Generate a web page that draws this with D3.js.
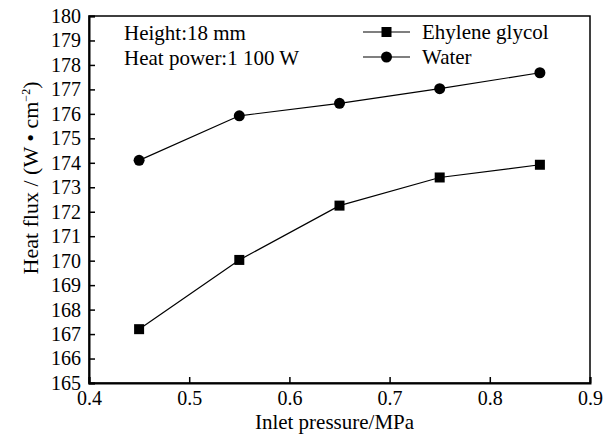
<!DOCTYPE html>
<html>
<head>
<meta charset="utf-8">
<script src="https://cdn.jsdelivr.net/npm/d3@7"></script>
<style>
body { margin: 0; background: #fff; }
svg text { font-family: "Liberation Serif", "Times New Roman", serif !important; fill: #000; }
</style>
</head>
<body>
<div id="chart-area"></div>
<script>
var pressure = [0.45, 0.55, 0.65, 0.75, 0.85];
var glycol = [167.2, 170.03, 172.25, 173.4, 173.92];
var water = [174.1, 175.92, 176.43, 177.03, 177.68];
var xTicks = [0.4, 0.5, 0.6, 0.7, 0.8, 0.9];
var yTicks = [165, 166, 167, 168, 169, 170, 171, 172, 173, 174, 175, 176, 177, 178, 179, 180];

var margin = { left: 89, right: 17, top: 16, bottom: 54 };
var width = 607 - margin.left - margin.right,
    height = 437 - margin.top - margin.bottom;
var serif = "'Liberation Serif', 'Times New Roman', serif";

var svg = d3.select("#chart-area").append("svg")
    .attr("width", 607)
    .attr("height", 437)
    .attr("font-family", serif);

var g = svg.append("g").attr("transform", "translate(" + margin.left + ", " + margin.top + ")");

var x = d3.scaleLinear().domain([0.4, 0.9]).range([0, width]);
var y = d3.scaleLinear().domain([165, 180]).range([height, 0]);

// frame
g.append("rect")
    .attr("width", width)
    .attr("height", height)
    .attr("fill", "none")
    .attr("stroke", "#000")
    .attr("stroke-width", 1.5);

var xAxis = d3.axisBottom(x).tickValues(xTicks).tickSize(-6).tickPadding(8)
    .tickFormat(d3.format(".1f"));
var xAxisGroup = g.append("g")
    .attr("transform", "translate(0, " + height + ")")
    .call(xAxis);

var yAxis = d3.axisLeft(y).tickValues(yTicks).tickSize(-6).tickPadding(8);
var yAxisGroup = g.append("g").call(yAxis);

[xAxisGroup, yAxisGroup].forEach(function(ax) {
    ax.attr("font-family", serif).attr("font-size", 20);
    ax.select(".domain").attr("stroke-width", 2);
    ax.selectAll(".tick line").attr("stroke-width", 1.5);
});

// labels
g.append("text")
    .attr("x", width / 2 - 5)
    .attr("y", height + 46)
    .attr("font-size", 21)
    .attr("text-anchor", "middle")
    .text("Inlet pressure/MPa");

var yLabel = g.append("text")
    .attr("transform", "rotate(-90)")
    .attr("x", -162)
    .attr("y", -51)
    .attr("font-size", 22)
    .attr("text-anchor", "middle");
yLabel.append("tspan").text("Heat flux / (W \u2022 cm");
yLabel.append("tspan").attr("font-size", 12).attr("dy", "-8").text("\u22122");
yLabel.append("tspan").attr("dy", "8").text(")");

g.append("text").attr("x", 35).attr("y", 24).attr("font-size", 21).text("Height:18 mm");
g.append("text").attr("x", 35).attr("y", 49).attr("font-size", 21).text("Heat power:1 100 W");

var line = d3.line()
    .x(function(d) { return x(d[0]); })
    .y(function(d) { return y(d[1]); });

var series = [
    { name: "Ehylene glycol", values: glycol, shape: "square" },
    { name: "Water", values: water, shape: "circle" }
];

function marker(sel, shape) {
    if (shape === "square") {
        sel.append("rect").attr("x", -5).attr("y", -5).attr("width", 10).attr("height", 10).attr("fill", "#000");
    } else {
        sel.append("circle").attr("r", 5.5).attr("fill", "#000");
    }
}

series.forEach(function(s, i) {
    var pts = pressure.map(function(p, j) { return [p, s.values[j]]; });
    g.append("path")
        .datum(pts)
        .attr("fill", "none")
        .attr("stroke", "#000")
        .attr("stroke-width", 1.2)
        .attr("d", line);
    pts.forEach(function(p) {
        var m = g.append("g").attr("transform", "translate(" + x(p[0]) + "," + y(p[1]) + ")");
        marker(m, s.shape);
    });

    // legend
    var ly = 16 + i * 25;
    var lg = g.append("g").attr("transform", "translate(274," + ly + ")");
    lg.append("line").attr("x1", 0).attr("x2", 47).attr("stroke", "#000").attr("stroke-width", 1.2);
    var lm = lg.append("g").attr("transform", "translate(23.5,0)");
    marker(lm, s.shape);
    lg.append("text").attr("x", 59).attr("y", 7).attr("font-size", 21).text(s.name);
});
</script>
</body>
</html>
